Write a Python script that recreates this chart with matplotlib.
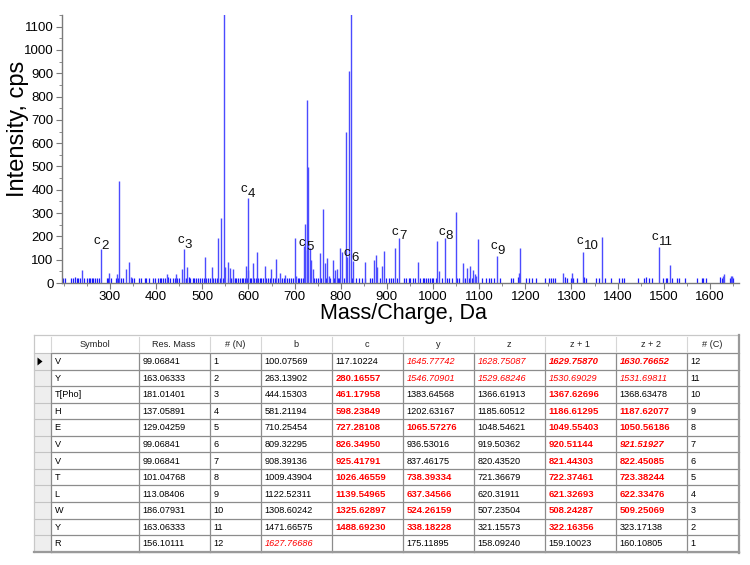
import matplotlib
matplotlib.use('Agg')
import matplotlib.pyplot as plt
from matplotlib.patches import Rectangle, Polygon
from matplotlib.ticker import MultipleLocator

plt.rcParams['font.family'] = ['Liberation Sans', 'DejaVu Sans']

# ---- spectrum data ----
peak_mz = [239, 280.17, 298.5, 314.5, 320, 335, 341.5, 345, 424.5, 442,
           455, 461.18, 467, 506.5, 521, 534.5, 541, 547, 550, 555,
           560, 565.5, 594, 598.24, 600, 609, 618.6, 635, 649.5, 659,
           669, 680, 701, 703.5, 720, 723.5, 726.4, 727.28, 730, 732.5,
           736, 739, 755, 762, 765, 769.5, 774, 782.5, 788, 791,
           798, 802.5, 812, 814, 817, 821.5, 826.35, 853, 873, 875.5,
           879, 889, 894, 918.5, 925.42, 967.5, 1009.5, 1013, 1026.47, 1049.5,
           1065.5, 1074, 1081, 1086, 1090, 1093, 1097, 1139.55, 1186.6, 1187.6,
           1282, 1302, 1325.63, 1366.6, 1488.69, 1514, 1628, 1630, 1645, 1648]
peak_int = [56, 146, 42, 38, 438, 60, 92, 27, 38, 38,
            60, 148, 67, 110, 70, 192, 278, 1400, 70, 90,
            66, 60, 75, 364, 55, 85, 132, 75, 62, 102,
            45, 35, 193, 30, 160, 253, 786, 140, 497, 150,
            100, 60, 128, 319, 85, 107, 30, 100, 55, 62,
            149, 132, 647, 110, 911, 1250, 95, 90, 100, 120,
            70, 72, 139, 149, 193, 90, 182, 50, 192, 306,
            85, 63, 72, 55, 40, 28, 189, 118, 45, 152,
            45, 45, 135, 196, 156, 77, 30, 38, 32, 32]

noise_mz = [198, 203, 216, 219.5, 224.5, 228, 231.5, 235, 244, 250,
            254, 257, 260.5, 264, 267.5, 271, 276, 293, 296, 303,
            313, 318, 324, 328.5, 347, 352, 362.5, 368, 375.5, 379,
            385, 393, 398.5, 404, 408, 411.5, 415, 418.5, 426, 429,
            436.5, 440, 445, 449, 459.5, 464, 471, 474, 479.5, 483,
            487, 490, 494, 498.5, 503.5, 508, 513, 516.5, 523.5, 527,
            531, 538, 544, 556.5, 561.5, 567, 570.5, 574, 577.5, 581,
            585, 588.5, 592, 596.5, 603, 606, 611.5, 615.5, 621, 624.5,
            628, 631.5, 638.5, 642.5, 646, 653, 656.5, 664, 667.5, 673,
            676, 683, 687.5, 692.5, 696, 707, 710.5, 714, 718, 743,
            746.5, 750, 757, 768, 777.5, 786, 793, 797, 807.5, 823.5,
            832, 839.5, 846.5, 851.5, 863, 868, 884.5, 898.5, 904, 909,
            913.5, 922, 938, 942, 947, 951, 956.5, 961.5, 972.5, 977.5,
            981.5, 985, 989, 992.5, 997.5, 1001, 1007, 1019, 1030, 1035.5,
            1040.5, 1051.5, 1057, 1064, 1069.5, 1077, 1084, 1087.5, 1105.5, 1114.5,
            1121, 1126.5, 1131.5, 1146, 1168, 1173.5, 1184, 1201, 1208, 1215,
            1224, 1242, 1252, 1256.5, 1260, 1265, 1286, 1290.5, 1298, 1303.5,
            1311.5, 1328, 1332, 1354, 1359, 1372.5, 1385, 1402, 1409, 1413,
            1445, 1457.5, 1461, 1469, 1474, 1499, 1504, 1508, 1517, 1529,
            1533, 1546, 1571, 1582, 1585.5, 1590.5, 1621, 1627, 1644, 1647,
            1650]
noise_int = [22, 20, 22, 22, 24, 22, 20, 22, 22, 22,
             20, 22, 22, 20, 22, 20, 22, 22, 20, 22,
             22, 20, 22, 22, 22, 20, 22, 22, 20, 22,
             22, 22, 20, 22, 22, 20, 22, 22, 24, 22,
             22, 20, 22, 22, 22, 20, 24, 22, 22, 20,
             22, 22, 20, 22, 22, 20, 22, 22, 20, 22,
             22, 20, 22, 22, 20, 22, 22, 20, 22, 22,
             20, 22, 22, 20, 22, 22, 20, 22, 22, 20,
             22, 22, 20, 22, 22, 20, 22, 22, 20, 22,
             22, 20, 22, 22, 20, 22, 22, 20, 22, 22,
             20, 22, 22, 20, 22, 22, 20, 22, 22, 20,
             22, 22, 20, 22, 22, 20, 22, 22, 20, 22,
             22, 20, 22, 22, 20, 22, 22, 20, 22, 22,
             20, 22, 22, 20, 22, 22, 20, 22, 22, 20,
             22, 22, 20, 22, 22, 20, 22, 22, 20, 22,
             22, 22, 22, 20, 22, 22, 24, 22, 22, 22,
             22, 22, 22, 20, 22, 22, 24, 22, 22, 22,
             22, 24, 22, 22, 20, 22, 22, 22, 22, 22,
             22, 22, 24, 22, 22, 22, 22, 22, 22, 22,
             22, 22, 22, 22, 22, 22, 24, 22, 22, 24,
             22]

# c-ion annotations
c_num = ['2', '3', '4', '5', '6', '7', '8', '9', '10', '11']
c_mz = [280.17, 461.18, 598.24, 724.0, 822.0, 925.42, 1026.47, 1139.55, 1325.63, 1488.69]
c_lab_y = [168, 172, 391, 163, 116, 210, 210, 146, 168, 185]

# ---- fragment table ----
headers = ['Symbol', 'Res. Mass', '# (N)', 'b', 'c', 'y', 'z', 'z + 1', 'z + 2', '# (C)']
sym = ['V', 'Y', 'T[Pho]', 'H', 'E', 'V', 'V', 'T', 'L', 'W', 'Y', 'R']
res_mass = ['99.06841', '163.06333', '181.01401', '137.05891', '129.04259', '99.06841',
            '99.06841', '101.04768', '113.08406', '186.07931', '163.06333', '156.10111']
n_idx = ['1', '2', '3', '4', '5', '6', '7', '8', '9', '10', '11', '12']
b_ion = ['100.07569', '263.13902', '444.15303', '581.21194', '710.25454', '809.32295',
         '908.39136', '1009.43904', '1122.52311', '1308.60242', '1471.66575', '1627.76686']
c_ion = ['117.10224', '280.16557', '461.17958', '598.23849', '727.28108', '826.34950',
         '925.41791', '1026.46559', '1139.54965', '1325.62897', '1488.69230', '']
y_ion = ['1645.77742', '1546.70901', '1383.64568', '1202.63167', '1065.57276', '936.53016',
         '837.46175', '738.39334', '637.34566', '524.26159', '338.18228', '175.11895']
z_ion = ['1628.75087', '1529.68246', '1366.61913', '1185.60512', '1048.54621', '919.50362',
         '820.43520', '721.36679', '620.31911', '507.23504', '321.15573', '158.09240']
z1_ion = ['1629.75870', '1530.69029', '1367.62696', '1186.61295', '1049.55403', '920.51144',
          '821.44303', '722.37461', '621.32693', '508.24287', '322.16356', '159.10023']
z2_ion = ['1630.76652', '1531.69811', '1368.63478', '1187.62077', '1050.56186', '921.51927',
          '822.45085', '723.38244', '622.33476', '509.25069', '323.17138', '160.10805']
c_idx = ['12', '11', '10', '9', '8', '7', '6', '5', '4', '3', '2', '1']

# n = normal, B = red bold, I = red italic, X = red bold italic
styles = ['n' * 12, 'n' * 12, 'n' * 12,
          'nnnnnnnnnnnI',
          'nBBBBBBBBBBn',
          'IInnBnnBBBBn',
          'IInnnnnnnnnn',
          'XIBBBBBBBBBn',
          'XInBBXBBBBnn',
          'n' * 12]
columns = [sym, res_mass, n_idx, b_ion, c_ion, y_ion, z_ion, z1_ion, z2_ion, c_idx]

fig = plt.figure(figsize=(7.5, 5.65), dpi=100)

# table drawn in pixel coordinates
tab = fig.add_axes([0, 0, 1, 1])
tab.set_xlim(0, 750)
tab.set_ylim(565, 0)
tab.axis('off')

edges = [33.5, 50.5, 138.5, 209.5, 260.5, 331.5, 402.5, 473.5, 544.5, 615.5, 686.5, 738.5]
h_top, h_bot, row_h = 335.0, 353.0, 16.55
t_bot = h_bot + 12 * row_h
grid_c = '#8c8c8c'

tab.add_patch(Rectangle((edges[0], h_top), edges[-1] - edges[0], t_bot - h_top,
                        facecolor='white', edgecolor='none'))
tab.add_patch(Rectangle((edges[0], h_bot), edges[1] - edges[0], t_bot - h_bot,
                        facecolor='#eeeeee', edgecolor='none'))
# horizontal lines
for i in range(13):
    yy = h_bot + i * row_h
    tab.plot([edges[1], edges[-1]], [yy, yy], color=grid_c, lw=0.9)
    tab.plot([edges[0], edges[1]], [yy, yy], color='#c4c4c4', lw=0.8)
# vertical lines
for xx in edges[1:-1]:
    tab.plot([xx, xx], [h_bot, t_bot], color=grid_c, lw=0.9)
    tab.plot([xx, xx], [h_top + 2, h_bot - 2], color='#d6d6d6', lw=0.8)
# outer frame with shadow
tab.plot([edges[0], edges[-1]], [h_top, h_top], color='#c8c8c8', lw=0.9)
tab.plot([edges[0], edges[0]], [h_top, t_bot], color='#c8c8c8', lw=0.9)
tab.plot([edges[-1], edges[-1]], [h_top, t_bot + 1], color='#9a9a9a', lw=1.6)
tab.plot([edges[0], edges[-1] + 0.5], [t_bot, t_bot], color='#9a9a9a', lw=1.6)
# current-row marker
tab.add_patch(Polygon([[37.5, 357.5], [37.5, 365.5], [42.5, 361.5]], closed=True,
                      facecolor='black', edgecolor='none'))

fs = 6.6
for j, head in enumerate(headers):
    cx = (edges[j + 1] + edges[j + 2]) / 2
    tab.text(cx, (h_top + h_bot) / 2 + 0.5, head, ha='center', va='center',
             fontsize=fs, color='#222222')
for j, col in enumerate(columns):
    x0 = edges[j + 1] + 4
    for i, val in enumerate(col):
        st = styles[j][i]
        yy = h_bot + (i + 0.5) * row_h + 0.5
        kw = dict(ha='left', va='center', fontsize=fs, color='black')
        if st == 'B':
            kw.update(color='#ff0000', fontweight='bold', fontsize=fs + 0.2)
        elif st == 'I':
            kw.update(color='#ff0000', fontstyle='italic')
        elif st == 'X':
            kw.update(color='#ff0000', fontweight='bold', fontstyle='italic', fontsize=fs + 0.2)
        tab.text(x0, yy, val, **kw)

# spectrum axes
ax = fig.add_axes([62 / 750, 1 - 283 / 565, (739 - 62) / 750, (283 - 15) / 565])
ax.vlines(noise_mz, 0, noise_int, colors='#1a1aff', linewidth=0.9)
ax.vlines(peak_mz, 0, peak_int, colors='#4b4bff', linewidth=1.0)
ax.set_xlim(196, 1663)
ax.set_ylim(0, 1150)
ax.set_xticks(range(300, 1700, 100))
ax.set_yticks(range(0, 1200, 100))
ax.yaxis.set_minor_locator(MultipleLocator(50))
ax.xaxis.set_minor_locator(MultipleLocator(50))
for s in ['top', 'right']:
    ax.spines[s].set_visible(False)
for s in ['left', 'bottom']:
    ax.spines[s].set_color('#7a7a7a')
    ax.spines[s].set_linewidth(1.0)
ax.tick_params(which='major', length=4, color='#7a7a7a', labelsize=9.5, pad=2)
ax.tick_params(which='minor', length=2, color='#7a7a7a')
ax.patch.set_alpha(0)

for num, mz, yl in zip(c_num, c_mz, c_lab_y):
    ax.annotate('c', xy=(mz, yl), xytext=(-0.3, 1.8), textcoords='offset points',
                ha='right', va='center', fontsize=9.5, color='#111111')
    ax.annotate(num, xy=(mz, yl), xytext=(0.3, -1.5), textcoords='offset points',
                ha='left', va='center', fontsize=9.5, color='#111111')

fig.text(18 / 750, 1 - 129 / 565, 'Intensity, cps', rotation=90, ha='center', va='center',
         fontsize=17)
fig.text(403 / 750, 1 - 314 / 565, 'Mass/Charge, Da', ha='center', va='center', fontsize=15.5)

fig.savefig('out.png', dpi=100)
